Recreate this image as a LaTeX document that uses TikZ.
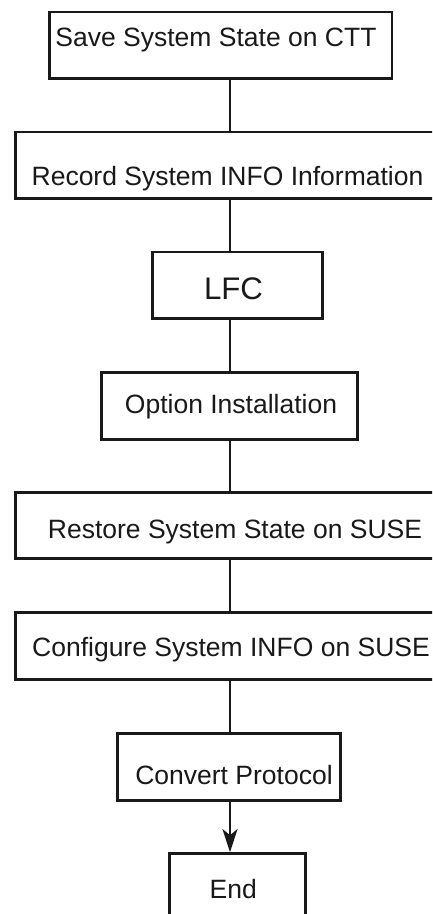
\documentclass[tikz,border=0pt]{standalone}
\usepackage{fontspec}
\setmainfont{Liberation Sans}
\usetikzlibrary{arrows.meta}
\begin{document}
\begin{tikzpicture}[x=1pt,y=-1pt,
  box/.style={draw=black!90, line width=2.7pt, rectangle, inner sep=0pt, fill=white},
  lbl/.style={anchor=base, inner sep=0pt, font=\fontsize{26.5}{30}\selectfont, text=black!90},
  big/.style={anchor=base, inner sep=0pt, font=\fontsize{31.2}{36}\selectfont, text=black!90},
  conn/.style={draw=black!90, line width=2.7pt}]
\useasboundingbox (0,0) rectangle (432,914);
\clip (0,0) rectangle (432,914);
\fill[white] (0,0) rectangle (432,914);
\coordinate (spine) at (230,0);
% boxes
\node[box, minimum width=342.3pt, minimum height=66.7pt] (b1) at (220.85,45.35) {};
\node[box, minimum width=424.7pt, minimum height=66.7pt] (b2) at (227.65,165.35) {};
\node[box, minimum width=170pt,   minimum height=66.8pt] (b3) at (237.8,285.4) {};
\node[box, minimum width=256.3pt, minimum height=66.7pt] (b4) at (229.35,406.15) {};
\node[box, minimum width=424.7pt, minimum height=66pt]   (b5) at (227.65,525.8) {};
\node[box, minimum width=424.7pt, minimum height=66.7pt] (b6) at (227.65,646.15) {};
\node[box, minimum width=222.7pt, minimum height=67.3pt] (b7) at (229.15,766.85) {};
\node[box, minimum width=136pt,   minimum height=67pt]   (b8) at (237.5,887) {};
% texts
\node[lbl] (t1) at (216,46.7) {Save System State on CTT};
\node[lbl] (t2) at (227.5,185) {Record System INFO Information};
\node[big] (t3) at (233.5,299.3) {LFC};
\node[lbl] (t4) at (231,413.3) {Option Installation};
\node[lbl] (t5) at (235,538.3) {Restore System State on SUSE};
\node[lbl] (t6) at (231,656.7) {Configure System INFO on SUSE};
\node[lbl] (t7) at (234,784) {Convert Protocol};
\node[lbl] (t8) at (233.3,898.3) {End};
% connectors
\draw[conn] (b1.south -| spine) -- (b2.north -| spine);
\draw[conn] (b2.south -| spine) -- (b3.north -| spine);
\draw[conn] (b3.south -| spine) -- (b4.north -| spine);
\draw[conn] (b4.south -| spine) -- (b5.north -| spine);
\draw[conn] (b5.south -| spine) -- (b6.north -| spine);
\draw[conn] (b6.south -| spine) -- (b7.north -| spine);
\draw[conn, -{Stealth[length=23pt,width=15pt,inset=6pt]}] (b7.south -| spine) -- (b8.north -| spine);
\end{tikzpicture}
\end{document}
